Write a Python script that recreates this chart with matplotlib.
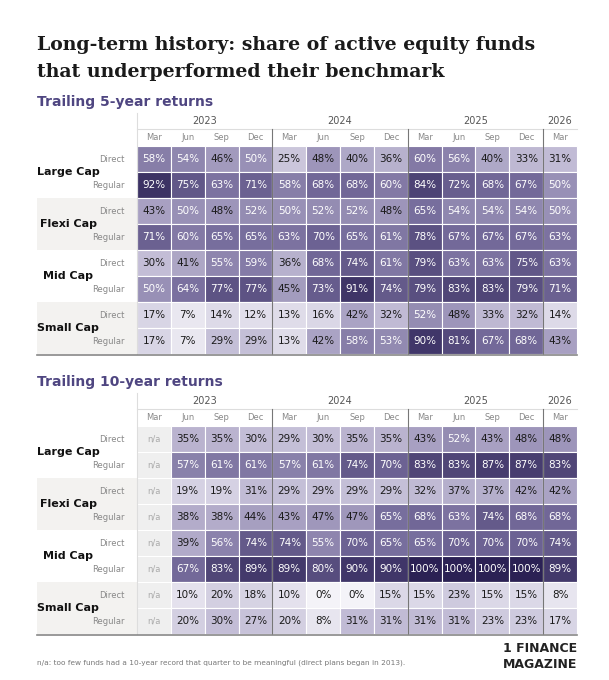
import numpy as np
import matplotlib.pyplot as plt
from matplotlib.colors import LinearSegmentedColormap
from matplotlib.patches import Rectangle

# ── data ──────────────────────────────────────
years = ['2023', '2024', '2025', '2026']
year_spans = [4, 4, 4, 1]
months = ['Mar', 'Jun', 'Sep', 'Dec'] * 3 + ['Mar']
groups = ['Large Cap', 'Flexi Cap', 'Mid Cap', 'Small Cap']
plans = ['Direct', 'Regular']

five_year = [
    [58, 54, 46, 50, 25, 48, 40, 36, 60, 56, 40, 33, 31],
    [92, 75, 63, 71, 58, 68, 68, 60, 84, 72, 68, 67, 50],
    [43, 50, 48, 52, 50, 52, 52, 48, 65, 54, 54, 54, 50],
    [71, 60, 65, 65, 63, 70, 65, 61, 78, 67, 67, 67, 63],
    [30, 41, 55, 59, 36, 68, 74, 61, 79, 63, 63, 75, 63],
    [50, 64, 77, 77, 45, 73, 91, 74, 79, 83, 83, 79, 71],
    [17, 7, 14, 12, 13, 16, 42, 32, 52, 48, 33, 32, 14],
    [17, 7, 29, 29, 13, 42, 58, 53, 90, 81, 67, 68, 43],
]
ten_year = [
    [None, 35, 35, 30, 29, 30, 35, 35, 43, 52, 43, 48, 48],
    [None, 57, 61, 61, 57, 61, 74, 70, 83, 83, 87, 87, 83],
    [None, 19, 19, 31, 29, 29, 29, 29, 32, 37, 37, 42, 42],
    [None, 38, 38, 44, 43, 47, 47, 65, 68, 63, 74, 68, 68],
    [None, 39, 56, 74, 74, 55, 70, 65, 65, 70, 70, 70, 74],
    [None, 67, 83, 89, 89, 80, 90, 90, 100, 100, 100, 100, 89],
    [None, 10, 20, 18, 10, 0, 0, 15, 15, 23, 15, 15, 8],
    [None, 20, 30, 27, 20, 8, 31, 31, 31, 31, 23, 23, 17],
]

# ── style ─────────────────────────────────────
cmap = LinearSegmentedColormap.from_list(
    'purp', ['#f4f3f8', '#bdb7d2', '#746a9a', '#2b2154'])
PURPLE = '#4f4681'

W, H = 609, 680
fig = plt.figure(figsize=(W / 100, H / 100), dpi=100)
ax = fig.add_axes([0, 0, 1, 1])
ax.set_xlim(0, W)
ax.set_ylim(H, 0)
ax.axis('off')

X0, X1 = 137, 577
CW = (X1 - X0) / 13
RH = 26

ax.text(37, 45, 'Long-term history: share of active equity funds',
        fontsize=13.6, fontweight='bold', family='DejaVu Serif', va='center', color='#1a1a1a')
ax.text(37, 72, 'that underperformed their benchmark',
        fontsize=13.6, fontweight='bold', family='DejaVu Serif', va='center', color='#1a1a1a')


def draw_table(y_title, data):
    ax.text(37, y_title, data['title'], fontsize=10, fontweight='bold',
            color=PURPLE, va='center')
    y_year = y_title + 19
    y_month = y_title + 35
    top = y_title + 44
    vals = data['vals']
    # year header
    c = 0
    for yr, span in zip(years, year_spans):
        ax.text(X0 + (c + span / 2) * CW, y_year, yr, fontsize=7,
                color='#555555', ha='center', va='center')
        c += span
    ax.plot([X0, X1], [y_year + 8, y_year + 8], color='#dddddd', lw=0.8)
    for i, m in enumerate(months):
        ax.text(X0 + (i + 0.5) * CW, y_month, m, fontsize=6,
                color='#888888', ha='center', va='center')
    # group labels / backgrounds
    for g, name in enumerate(groups):
        gy = top + g * 2 * RH
        if g % 2 == 1:
            ax.add_patch(Rectangle((37, gy), X0 - 37, 2 * RH, color='#f3f2f0', lw=0))
        ax.text(68, gy + RH, name, fontsize=8, fontweight='bold',
                ha='center', va='center', color='#111111')
        for p, plan in enumerate(plans):
            ax.text(125, gy + (p + 0.5) * RH, plan, fontsize=6, color='#888888',
                    ha='right', va='center')
    # cells
    for r, row in enumerate(vals):
        for ci, v in enumerate(row):
            x = X0 + ci * CW
            y = top + r * RH
            if v is None:
                ax.add_patch(Rectangle((x, y), CW, RH, facecolor='#efefef',
                                       edgecolor='white', lw=0.8))
                ax.text(x + CW / 2, y + RH / 2, 'n/a', fontsize=6, color='#aaaaaa',
                        ha='center', va='center')
                continue
            ax.add_patch(Rectangle((x, y), CW, RH, facecolor=cmap(v / 100),
                                   edgecolor='white', lw=0.8))
            ax.text(x + CW / 2, y + RH / 2, f'{v}%', fontsize=7.5,
                    color='white' if v >= 50 else '#1a1a1a',
                    ha='center', va='center')
    bottom = top + len(vals) * RH
    # year separators
    for k in (4, 8, 12):
        xs = X0 + k * CW
        ax.plot([xs, xs], [y_year + 8, bottom], color='#777777', lw=0.8)
    ax.plot([X0, X0], [y_year - 8, bottom], color='#dddddd', lw=0.8)
    ax.plot([37, X1], [bottom + 1, bottom + 1], color='#888888', lw=1.2)


draw_table(102, {'title': 'Trailing 5-year returns', 'vals': five_year})
draw_table(382, {'title': 'Trailing 10-year returns', 'vals': ten_year})

ax.text(37, 663, 'n/a: too few funds had a 10-year record that quarter to be meaningful '
        '(direct plans began in 2013).', fontsize=5.3, color='#777777', va='center')
ax.text(X1, 648, '1 FINANCE', fontsize=9, fontweight='bold', ha='right', va='center',
        color='#222222')
ax.text(X1, 665, 'MAGAZINE', fontsize=9, fontweight='bold', ha='right', va='center',
        color='#222222')

fig.savefig('out.png', dpi=100, facecolor='white')
